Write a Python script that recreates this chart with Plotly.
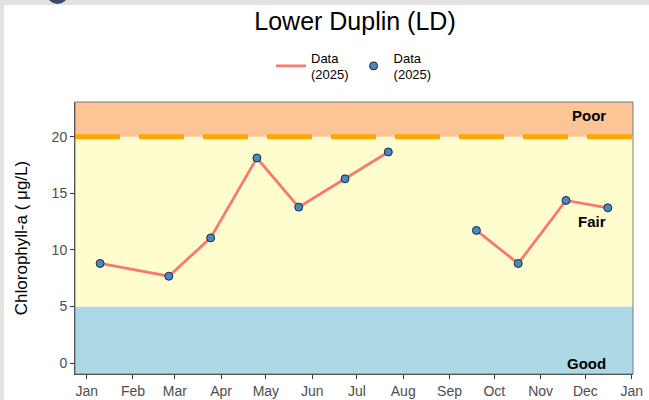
import plotly.graph_objects as go

# ---- data ----
dates = ["2025-01-10", "2025-02-25", "2025-03-25", "2025-04-25", "2025-05-23",
         "2025-06-23", "2025-07-22", "2025-08-20", "2025-09-19", "2025-10-17",
         "2025-11-18", "2025-12-16"]
chla = [8.8, 7.67, 11.06, 18.12, 13.78, 16.28, 18.65, None, 11.72, 8.8, 14.37, 13.72]

tick_dates = ["2025-01-01", "2025-02-01", "2025-03-01", "2025-04-01", "2025-05-01",
              "2025-06-01", "2025-07-01", "2025-08-01", "2025-09-01", "2025-10-01",
              "2025-11-01", "2025-12-01", "2026-01-01"]
tick_labels = ["Jan", "Feb", "Mar", "Apr", "May", "Jun", "Jul", "Aug", "Sep", "Oct",
               "Nov", "Dec", "Jan"]
y_ticks = [0, 5, 10, 15, 20]

good_max = 5
fair_max = 20
y_range = [-0.97, 23.07]
x_range = ["2024-12-24 04:00", "2026-01-01 21:00"]

band_labels = ["Poor", "Fair", "Good"]
band_label_y = [21.9, 12.48, 0.0]

FONT = "Liberation Sans, Arial, sans-serif"

# pixel geometry helpers (plot area 75..633 x 102..374)
L, R, T, B = 75, 16, 102, 26
W, H = 649, 400
PW, PH = W - L - R, H - T - B


def px_x(p):
    return (p - L) / PW


def px_y(p):
    return (H - B - p) / PH


fig = go.Figure()

fig.add_trace(go.Scatter(
    x=dates, y=chla, mode="lines", name="Data<br>(2025)",
    line=dict(color="#F7796F", width=2.8), connectgaps=False,
))
fig.add_trace(go.Scatter(
    x=dates, y=chla, mode="markers", name="Data<br>(2025)",
    marker=dict(color="#4A87C5", size=8, line=dict(color="#1E2A38", width=1)),
))

shapes = []
# white page panel over gray background
shapes.append(dict(type="rect", xref="paper", yref="paper",
                   x0=px_x(4), x1=px_x(700), y0=px_y(450), y1=px_y(5),
                   fillcolor="white", line=dict(width=0), layer="below"))
# dark circle fragment at top-left
shapes.append(dict(type="circle", xref="paper", yref="paper",
                   x0=px_x(47), x1=px_x(68), y0=px_y(4), y1=px_y(-16),
                   fillcolor="#3B4A66", line=dict(width=0), layer="below"))
# bands
shapes.append(dict(type="rect", xref="paper", yref="y", x0=0, x1=1,
                   y0=y_range[0], y1=good_max, fillcolor="#ADD8E6",
                   line=dict(width=0), layer="below"))
shapes.append(dict(type="rect", xref="paper", yref="y", x0=0, x1=1,
                   y0=good_max, y1=fair_max, fillcolor="#FFFDCD",
                   line=dict(width=0), layer="below"))
shapes.append(dict(type="rect", xref="paper", yref="y", x0=0, x1=1,
                   y0=fair_max, y1=y_range[1], fillcolor="#FDC596",
                   line=dict(width=0), layer="below"))
# dashed threshold
shapes.append(dict(type="line", xref="paper", yref="y", x0=0, x1=1,
                   y0=fair_max, y1=fair_max,
                   line=dict(color="#FFA500", width=5, dash="45px,19px"),
                   layer="below"))
# panel border
shapes.append(dict(type="rect", xref="paper", yref="paper", x0=0, x1=1, y0=0, y1=1,
                   line=dict(color="#7A7A7A", width=1), fillcolor="rgba(0,0,0,0)"))

annotations = []
for lab, yv in zip(band_labels, band_label_y):
    annotations.append(dict(x=dates[-1], y=yv, xref="x", yref="y", text="<b>" + lab + "</b>",
                            showarrow=False, xanchor="right", yanchor="middle",
                            font=dict(family=FONT, size=15, color="black")))

fig.update_layout(
    width=W, height=H,
    margin=dict(l=L, r=R, t=T, b=B, autoexpand=False),
    paper_bgcolor="#E2E2E2",
    plot_bgcolor="rgba(0,0,0,0)",
    font=dict(family=FONT),
    title=dict(text="Lower Duplin (LD)", x=355 / W, xanchor="center",
               y=1 - 21 / H, yanchor="middle", yref="container",
               font=dict(family=FONT, size=25, color="black")),
    showlegend=True,
    legend=dict(orientation="h", x=0.5, xanchor="center", y=px_y(66), yanchor="middle",
                font=dict(family=FONT, size=13, color="black"),
                bgcolor="rgba(0,0,0,0)", itemwidth=30, tracegroupgap=0),
    shapes=shapes,
    annotations=annotations,
)

fig.update_xaxes(
    type="date", range=x_range, tickvals=tick_dates, ticktext=tick_labels,
    showgrid=False, zeroline=False, showline=True, linecolor="#333333", linewidth=1,
    ticks="outside", ticklen=4, tickcolor="#333333", automargin=False,
    tickfont=dict(family=FONT, size=14, color="#4D4D4D"),
)
fig.update_yaxes(
    range=y_range, tickvals=y_ticks, showgrid=False, zeroline=False,
    showline=True, linecolor="#333333", linewidth=1,
    ticks="outside", ticklen=4, tickcolor="#333333", automargin=False,
    tickfont=dict(family=FONT, size=14, color="#4D4D4D"),
    title=dict(text="Chlorophyll-a ( μg/L)", standoff=19,
               font=dict(family=FONT, size=17, color="black")),
)

fig.write_html(
    "out.html",
    config={"displayModeBar": False},
    post_script="document.body.style.margin='0';document.body.style.overflow='hidden';",
)
